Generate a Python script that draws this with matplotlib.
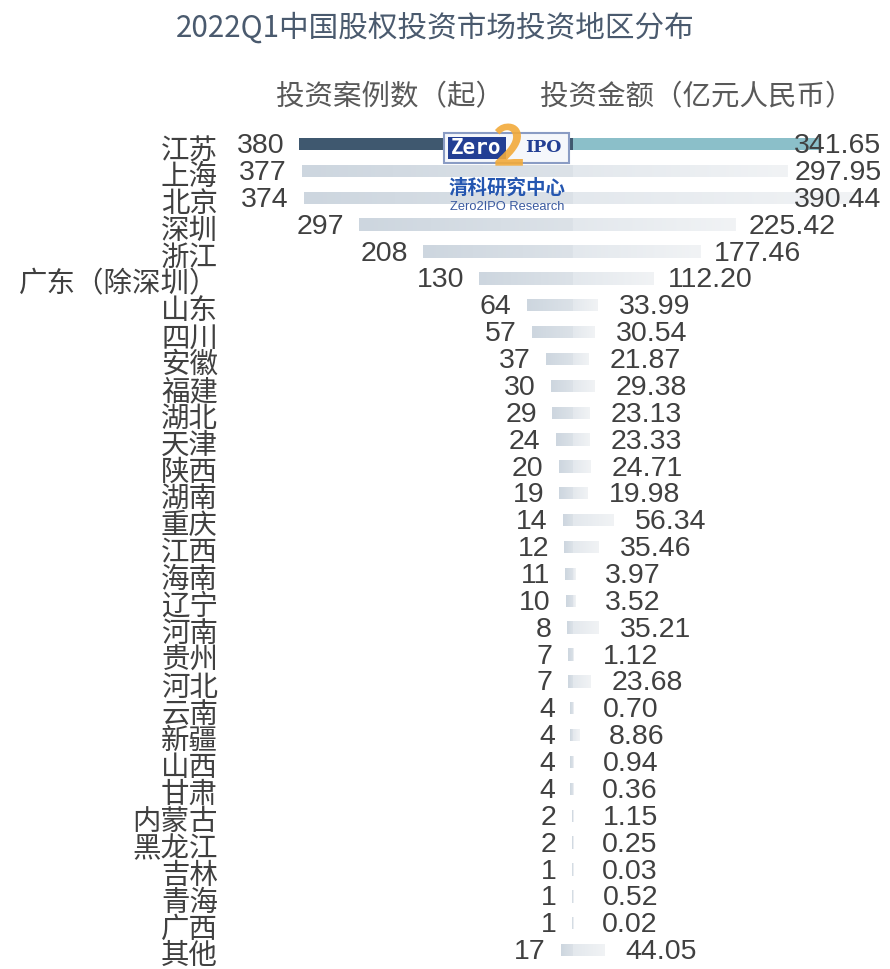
import numpy as np
import matplotlib
matplotlib.use('Agg')
import matplotlib.pyplot as plt
from matplotlib.colors import LinearSegmentedColormap
from matplotlib.patches import Rectangle

plt.rcParams['font.family'] = ['Noto Sans CJK SC', 'DejaVu Sans']

# data
regions = ['江苏', '上海', '北京', '深圳', '浙江', '广东（除深圳）', '山东', '四川', '安徽', '福建',
           '湖北', '天津', '陕西', '湖南', '重庆', '江西', '海南', '辽宁', '河南', '贵州',
           '河北', '云南', '新疆', '山西', '甘肃', '内蒙古', '黑龙江', '吉林', '青海', '广西', '其他']
cases = [380, 377, 374, 297, 208, 130, 64, 57, 37, 30,
         29, 24, 20, 19, 14, 12, 11, 10, 8, 7,
         7, 4, 4, 4, 4, 2, 2, 1, 1, 1, 17]
amounts = [341.65, 297.95, 390.44, 225.42, 177.46, 112.20, 33.99, 30.54, 21.87, 29.38,
           23.13, 23.33, 24.71, 19.98, 56.34, 35.46, 3.97, 3.52, 35.21, 1.12,
           23.68, 0.70, 8.86, 0.94, 0.36, 1.15, 0.25, 0.03, 0.52, 0.02, 44.05]

W, H = 890, 969
def fx(x):
    return x / W
def fy(y):
    return 1 - y / H

fig = plt.figure(figsize=(8.9, 9.69), dpi=100)
ax = fig.add_axes([0, 0, 1, 1])
ax.axis('off')

pos = np.arange(len(regions))
left_colors = ['#3f586f'] + ['#d3dbe3'] * (len(regions) - 1)
right_colors = ['#8bbfc9'] + ['#e8ecf0'] * (len(regions) - 1)
bl = ax.barh(pos, [-c for c in cases], height=0.46, color=left_colors, linewidth=0)
br = ax.barh(pos, amounts, height=0.46, color=right_colors, linewidth=0)

# soft gradient on the grey bars
cm_left = LinearSegmentedColormap.from_list('l', ['#cdd6df', '#dce2e8'])
cm_right = LinearSegmentedColormap.from_list('r', ['#e3e8ed', '#f1f3f5'])
grad = np.linspace(0, 1, 128).reshape(1, -1)
for bars, cmap in [(bl, cm_left), (br, cm_right)]:
    for k, p in enumerate(bars.patches):
        if k == 0:
            continue
        x0, x1 = p.get_x(), p.get_x() + p.get_width()
        y0, y1 = p.get_y(), p.get_y() + p.get_height()
        im = ax.imshow(grad, cmap=cmap, extent=[min(x0, x1), max(x0, x1), y1, y0],
                       aspect='auto', interpolation='bilinear', zorder=2)
        im.set_clip_path(p)

txt = '#404040'
num_font = ['Liberation Sans', 'DejaVu Sans']
for i, (c, a) in enumerate(zip(cases, amounts)):
    ax.annotate(str(c), xy=(-c, i), xytext=(-11, -1.5), textcoords='offset points',
                ha='right', va='center', fontsize=20.5, color=txt, family=num_font, zorder=5)
    ax.annotate(f'{a:.2f}', xy=(min(a + 79, 368), i), xytext=(0, -1.5), textcoords='offset points',
                ha='center', va='center', fontsize=20.5, color=txt, family=num_font, zorder=5)
    ax.annotate(regions[i], xy=(fx(218), i), xycoords=('figure fraction', 'data'),
                xytext=(0, -4.5), textcoords='offset points',
                ha='right', va='center', fontsize=20.5, color=txt, zorder=5)

ax.set_xlim(-573 / 0.72, (W - 573) / 0.72)
ax.set_ylim((H - 144) / 26.87, -144 / 26.87)

# title and column headers
fig.text(fx(435), fy(28), '2022Q1中国股权投资市场投资地区分布', ha='center', va='center',
         fontsize=21.3, color='#4a5a6e')
fig.text(fx(390), fy(97), '投资案例数（起）', ha='center', va='center', fontsize=20.5, color='#595959')
fig.text(fx(697), fy(97), '投资金额（亿元人民币）', ha='center', va='center', fontsize=20.5, color='#595959')

# Zero2IPO watermark
fig.add_artist(Rectangle((fx(444), fy(163)), fx(125), 30 / H, transform=fig.transFigure,
                         facecolor='#f5f7fb', edgecolor='#8a9cc4', linewidth=1.5, zorder=6))
fig.add_artist(Rectangle((fx(448), fy(159)), fx(58), 22 / H, transform=fig.transFigure,
                         facecolor='#233f94', edgecolor='none', zorder=7))
fig.text(fx(476), fy(148), 'Zero', ha='center', va='center', fontsize=15, fontweight='bold',
         color='white', family=['DejaVu Sans Mono'], zorder=8)
fig.text(fx(543), fy(148), 'IPO', ha='center', va='center', fontsize=12.5, fontweight='bold',
         color='#233f94', family=['DejaVu Serif'], zorder=8)
fig.text(fx(508), fy(149), '2', ha='center', va='center', fontsize=40, fontweight='bold',
         color='#f2aa3a', alpha=0.9, zorder=9)
fig.text(fx(507), fy(188), '清科研究中心', ha='center', va='center', fontsize=14, fontweight='bold',
         color='#2456b0', zorder=8)
fig.text(fx(507), fy(207), 'Zero2IPO Research', ha='center', va='center', fontsize=9.3,
         color='#3a5aa0', family=['Liberation Sans'], zorder=8)

fig.savefig('out.png', dpi=100)
